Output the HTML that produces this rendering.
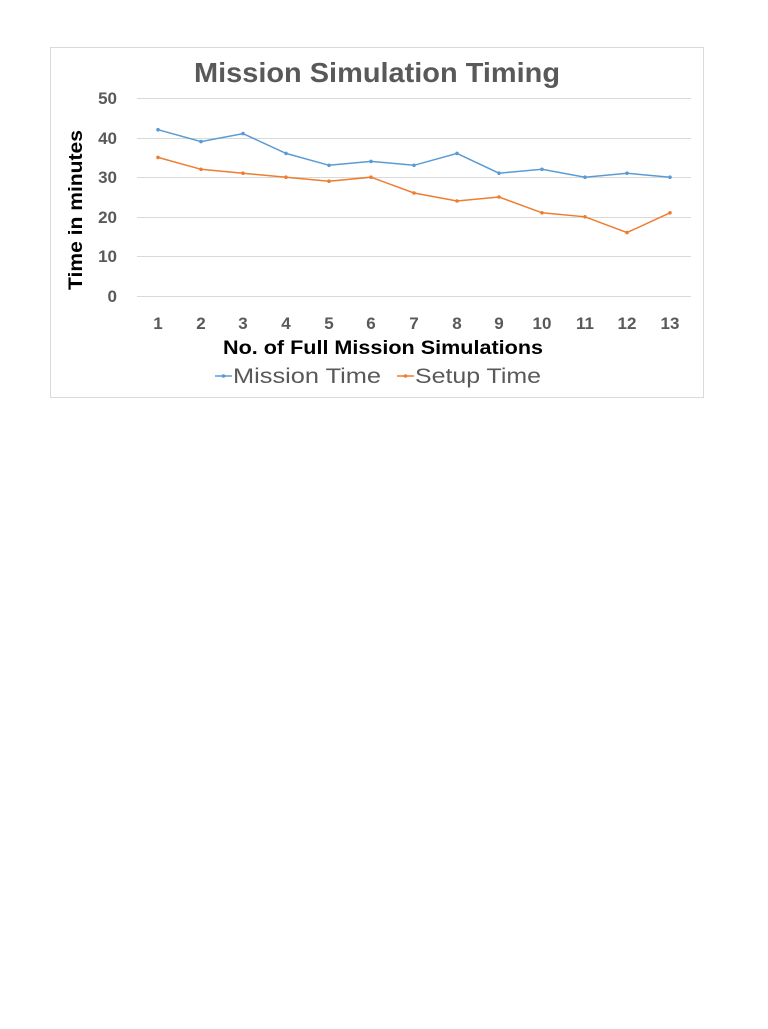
<!DOCTYPE html>
<html><head><style>
body{margin:0;width:768px;height:1024px;background:#fff;overflow:hidden}
text{font-family:"Liberation Sans",sans-serif}
</style></head><body>
<svg width="768" height="1024" xmlns="http://www.w3.org/2000/svg">
<rect x="50.5" y="47.5" width="653" height="350" fill="#fff" stroke="#d9d9d9"/>
<text x="194" y="82" font-size="28" font-weight="bold" fill="#595959" textLength="366" lengthAdjust="spacingAndGlyphs">Mission Simulation Timing</text>
<g stroke="#d9d9d9" stroke-width="1">
<line x1="137" x2="691" y1="98.5" y2="98.5"/><line x1="137" x2="691" y1="138.5" y2="138.5"/>
<line x1="137" x2="691" y1="177.5" y2="177.5"/><line x1="137" x2="691" y1="217.5" y2="217.5"/>
<line x1="137" x2="691" y1="256.5" y2="256.5"/><line x1="137" x2="691" y1="296.5" y2="296.5"/>
</g>
<g font-size="17" font-weight="bold" fill="#595959" text-anchor="end">
<text x="117" y="104">50</text><text x="117" y="144">40</text><text x="117" y="183">30</text>
<text x="117" y="223">20</text><text x="117" y="262">10</text><text x="117" y="302">0</text>
</g>
<g font-size="17" font-weight="bold" fill="#595959" text-anchor="middle">
<text x="158" y="329">1</text><text x="201" y="329">2</text><text x="243" y="329">3</text>
<text x="286" y="329">4</text><text x="329" y="329">5</text><text x="371" y="329">6</text>
<text x="414" y="329">7</text><text x="457" y="329">8</text><text x="499" y="329">9</text>
<text x="542" y="329">10</text><text x="585" y="329">11</text><text x="627" y="329">12</text>
<text x="670" y="329">13</text>
</g>
<text x="223" y="354" font-size="19" font-weight="bold" fill="#000" textLength="320" lengthAdjust="spacingAndGlyphs">No. of Full Mission Simulations</text>
<text transform="translate(82,290) rotate(-90)" font-size="19" font-weight="bold" fill="#000" textLength="160" lengthAdjust="spacingAndGlyphs">Time in minutes</text>
<polyline fill="none" stroke="#5b9bd5" stroke-width="1.5" points="158,129.7 201,141.6 243,133.6 286,153.4 329,165.3 371,161.4 414,165.3 457,153.4 499,173.2 542,169.3 585,177.2 627,173.2 670,177.2"/>
<polyline fill="none" stroke="#ed7d31" stroke-width="1.5" points="158,157.4 201,169.3 243,173.2 286,177.2 329,181.2 371,177.2 414,193.0 457,201.0 499,197.0 542,212.8 585,216.8 627,232.6 670,212.8"/>
<g fill="#5b9bd5"><circle cx="158" cy="129.7" r="1.8"/><circle cx="201" cy="141.6" r="1.8"/><circle cx="243" cy="133.6" r="1.8"/><circle cx="286" cy="153.4" r="1.8"/><circle cx="329" cy="165.3" r="1.8"/><circle cx="371" cy="161.4" r="1.8"/><circle cx="414" cy="165.3" r="1.8"/><circle cx="457" cy="153.4" r="1.8"/><circle cx="499" cy="173.2" r="1.8"/><circle cx="542" cy="169.3" r="1.8"/><circle cx="585" cy="177.2" r="1.8"/><circle cx="627" cy="173.2" r="1.8"/><circle cx="670" cy="177.2" r="1.8"/></g>
<g fill="#ed7d31"><circle cx="158" cy="157.4" r="1.8"/><circle cx="201" cy="169.3" r="1.8"/><circle cx="243" cy="173.2" r="1.8"/><circle cx="286" cy="177.2" r="1.8"/><circle cx="329" cy="181.2" r="1.8"/><circle cx="371" cy="177.2" r="1.8"/><circle cx="414" cy="193" r="1.8"/><circle cx="457" cy="201" r="1.8"/><circle cx="499" cy="197" r="1.8"/><circle cx="542" cy="212.8" r="1.8"/><circle cx="585" cy="216.8" r="1.8"/><circle cx="627" cy="232.6" r="1.8"/><circle cx="670" cy="212.8" r="1.8"/></g>
<line x1="215" x2="232" y1="376" y2="376" stroke="#5b9bd5" stroke-width="1.5"/><circle cx="223.5" cy="376" r="1.8" fill="#5b9bd5"/>
<text x="233" y="383" font-size="21" fill="#595959" textLength="148" lengthAdjust="spacingAndGlyphs">Mission Time</text>
<line x1="397" x2="414" y1="376" y2="376" stroke="#ed7d31" stroke-width="1.5"/><circle cx="405.5" cy="376" r="1.8" fill="#ed7d31"/>
<text x="415" y="383" font-size="21" fill="#595959" textLength="126" lengthAdjust="spacingAndGlyphs">Setup Time</text>
</svg>
</body></html>
